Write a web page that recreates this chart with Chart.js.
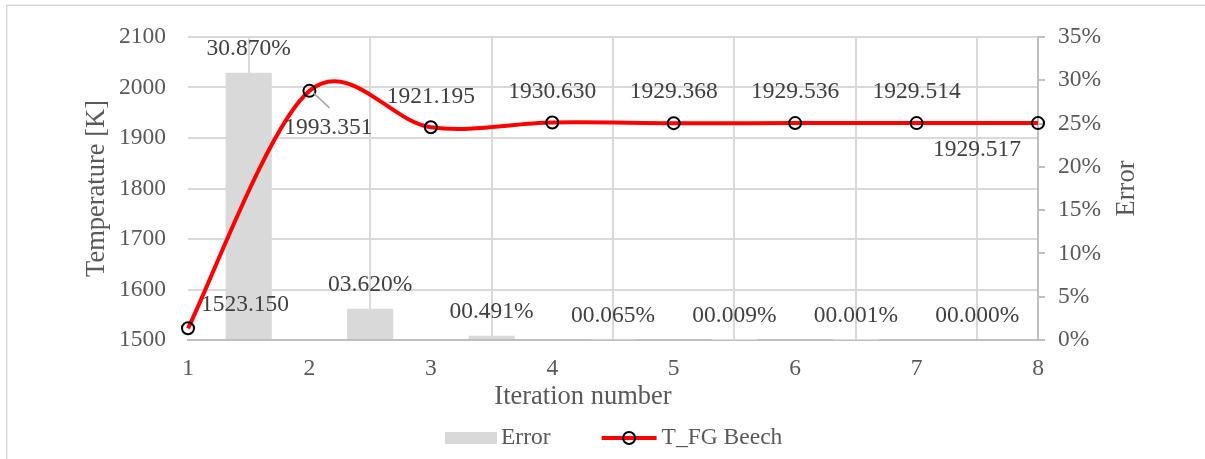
<!DOCTYPE html>
<html>
<head>
<meta charset="utf-8">
<script src="https://cdn.jsdelivr.net/npm/chart.js@4.4.1/dist/chart.umd.min.js"></script>
<style>
  html, body { margin: 0; padding: 0; background: #fff; overflow: hidden; }
  #wrap { width: 1205px; height: 459px; }
</style>
</head>
<body>
<div id="wrap"><canvas id="chart" width="1205" height="459"></canvas></div>
<script>
// data
const iterations = [1, 2, 3, 4, 5, 6, 7, 8];
const temperatures = [1523.150, 1993.351, 1921.195, 1930.630, 1929.368, 1929.536, 1929.514, 1929.517];
const errors = [30.870, 3.620, 0.491, 0.065, 0.009, 0.001, 0.000]; // % change between iterations
const tempAxis = { min: 1500, max: 2100, step: 100 };
const errorAxis = { min: 0, max: 35, step: 5 };
const seriesNames = ['Error', 'T_FG Beech'];

// error bars sit halfway between two iterations
const errorX = iterations.slice(1).map(i => i - 0.5);

const FONT = 'Liberation Serif, Times New Roman, serif';
const FS = 23.5;      // ticks, data labels, legend
const FS_TITLE = 26.5; // axis titles
const TEXT = '#595959';
const LABEL = '#404040';

// label placement tweaks (pixels, relative to the point)
const lineLabelOffsets = [[57, -23], [19, 37], [0, -30], [0, -31], [0, -31], [0, -31], [0, -31], [-61, 27]];
const barLabelLift = 24;

function fmtPct(v) {
  const s = v.toFixed(3);
  return (v < 10 ? '0' : '') + s + '%';
}

const decor = {
  id: 'decor',
  beforeDraw(chart) {
    const ctx = chart.ctx;
    ctx.save();
    ctx.fillStyle = '#fff';
    ctx.fillRect(0, 0, chart.width, chart.height);
    ctx.strokeStyle = '#d9d9d9';
    ctx.lineWidth = 1.5;
    ctx.beginPath();
    ctx.moveTo(6.75, chart.height + 5);
    ctx.lineTo(6.75, 5.25);
    ctx.lineTo(chart.width + 5, 5.25);
    ctx.stroke();
    ctx.restore();
  },
  beforeDatasetsDraw(chart) {
    // Excel style smoothing: tangent = (next - prev) / 6
    const line = chart.getDatasetMeta(1).dataset;
    const pts = chart.getDatasetMeta(1).data;
    const k = 1 / 6;
    pts.forEach((p, i) => {
      const prev = pts[Math.max(i - 1, 0)];
      const next = pts[Math.min(i + 1, pts.length - 1)];
      const tx = (next.x - prev.x) * k;
      const ty = (next.y - prev.y) * k;
      p.cp1x = p.x - tx; p.cp1y = p.y - ty;
      p.cp2x = p.x + tx; p.cp2y = p.y + ty;
    });
    line._pointsUpdated = true;
    line._path = undefined;
  },
  afterDatasetsDraw(chart) {
    const ctx = chart.ctx;
    ctx.save();
    ctx.font = FS + 'px ' + FONT;
    ctx.fillStyle = LABEL;
    ctx.textAlign = 'center';
    ctx.textBaseline = 'middle';

    // bar labels
    chart.getDatasetMeta(0).data.forEach((bar, i) => {
      ctx.fillText(fmtPct(errors[i]), bar.x, bar.y - barLabelLift);
    });

    // line labels
    chart.getDatasetMeta(1).data.forEach((pt, i) => {
      const [dx, dy] = lineLabelOffsets[i];
      ctx.fillText(temperatures[i].toFixed(3), pt.x + dx, pt.y + dy);
      if (i === 1) {
        ctx.strokeStyle = '#a6a6a6';
        ctx.lineWidth = 1.5;
        ctx.beginPath();
        ctx.moveTo(pt.x + 4, pt.y + 2);
        ctx.lineTo(pt.x + 20, pt.y + 17);
        ctx.stroke();
      }
    });
    ctx.restore();
  },
  afterDraw(chart) {
    const ctx = chart.ctx;
    const a = chart.chartArea;
    ctx.save();
    ctx.font = FS_TITLE + 'px ' + FONT;
    ctx.fillStyle = TEXT;
    ctx.textAlign = 'center';
    ctx.textBaseline = 'middle';

    // x title sits a bit left of the plot centre in the original
    ctx.fillText('Iteration number', 583, 397);

    // right axis title reads bottom to top, like the left one
    ctx.save();
    ctx.translate(1127, (a.top + a.bottom) / 2);
    ctx.rotate(-Math.PI / 2);
    ctx.fillText('Error', 0, 0);
    ctx.restore();

    // legend
    const ly = 438;
    ctx.font = FS + 'px ' + FONT;
    ctx.textAlign = 'left';
    let x = 445;
    ctx.fillStyle = '#d9d9d9';
    ctx.fillRect(x, ly - 6, 52, 12);
    ctx.fillStyle = TEXT;
    ctx.fillText(seriesNames[0], x + 56, ly);
    x += 56 + ctx.measureText(seriesNames[0]).width + 51;
    ctx.strokeStyle = '#ff0000';
    ctx.lineWidth = 4;
    ctx.beginPath();
    ctx.moveTo(x, ly);
    ctx.lineTo(x + 55, ly);
    ctx.stroke();
    ctx.strokeStyle = '#000';
    ctx.lineWidth = 2;
    ctx.beginPath();
    ctx.arc(x + 27.5, ly, 6, 0, Math.PI * 2);
    ctx.stroke();
    ctx.fillText(seriesNames[1], x + 60, ly);
    ctx.restore();
  }
};

Chart.defaults.font.family = FONT;
Chart.defaults.font.size = FS;
Chart.defaults.color = TEXT;

new Chart(document.getElementById('chart'), {
  type: 'line',
  data: {
    datasets: [{
      type: 'bar',
      label: seriesNames[0],
      data: errorX.map((x, i) => ({ x: x, y: errors[i] })),
      xAxisID: 'x',
      yAxisID: 'y1',
      backgroundColor: '#d9d9d9',
      borderWidth: 0,
      barPercentage: 0.38,
      categoryPercentage: 1,
      order: 2
    }, {
      type: 'line',
      label: seriesNames[1],
      data: iterations.map((x, i) => ({ x: x, y: temperatures[i] })),
      xAxisID: 'x',
      yAxisID: 'y',
      borderColor: '#ff0000',
      borderWidth: 4,
      tension: 0.5,
      fill: false,
      clip: false,
      pointRadius: 6,
      pointBorderWidth: 2,
      pointBorderColor: '#000',
      pointBackgroundColor: 'rgba(0,0,0,0)',
      order: 1
    }]
  },
  options: {
    responsive: false,
    animation: false,
    layout: { padding: { top: 37, left: 0, right: 0, bottom: 42 } },
    plugins: {
      tooltip: { enabled: false },
      legend: { display: false }
    },
    scales: {
      x: {
        type: 'linear',
        position: 'bottom',
        min: iterations[0],
        max: iterations[iterations.length - 1],
        offset: false,
        afterFit(s) { s.height = 77; },
        ticks: { stepSize: 1, padding: 15, color: TEXT, font: { size: FS } },
        grid: { color: '#d9d9d9', lineWidth: 2, drawTicks: false },
        border: { color: '#bfbfbf', width: 2 }
      },
      y: {
        position: 'left',
        min: tempAxis.min,
        max: tempAxis.max,
        afterFit(s) { s.width = 188; },
        ticks: { stepSize: tempAxis.step, padding: 22, color: TEXT, font: { size: FS }, callback: v => String(v) },
        grid: { color: '#d9d9d9', lineWidth: 2, drawTicks: false },
        border: { display: false },
        title: {
          display: true,
          text: 'Temperature [K]',
          color: TEXT,
          font: { size: FS_TITLE },
          padding: { top: 81, bottom: 0 }
        }
      },
      y1: {
        position: 'right',
        min: errorAxis.min,
        max: errorAxis.max,
        afterFit(s) { s.width = 167; },
        ticks: {
          stepSize: errorAxis.step,
          padding: 13,
          color: TEXT,
          font: { size: FS },
          callback: v => v + '%'
        },
        grid: { drawOnChartArea: false, drawTicks: true, tickLength: 7, color: '#bfbfbf', lineWidth: 2 },
        border: { color: '#bfbfbf', width: 2 }
      }
    }
  },
  plugins: [decor]
});
</script>
</body>
</html>
